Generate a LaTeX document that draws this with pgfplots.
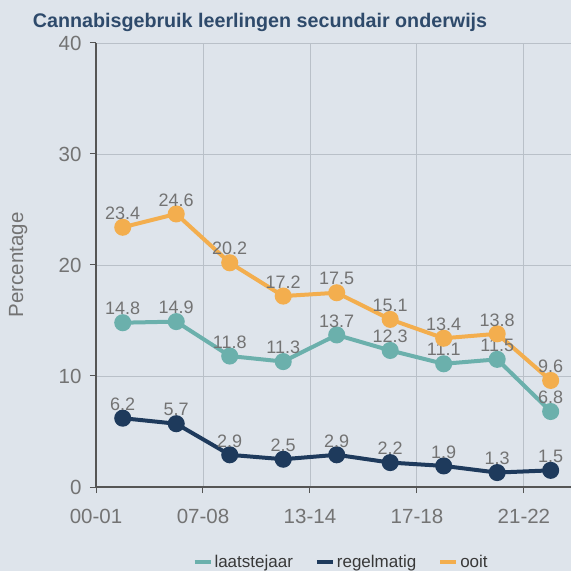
\documentclass[border=0pt]{standalone}
\usepackage{fontspec}
\setmainfont{Liberation Sans}
\usepackage{pgfplots}
\pgfplotsset{compat=1.18}
\definecolor{bg}{HTML}{DEE4EB}
\definecolor{titleblue}{HTML}{2E4A6B}
\definecolor{teal}{HTML}{6BB0AC}
\definecolor{navy}{HTML}{1E3A5C}
\definecolor{orng}{HTML}{F3AE4E}
\definecolor{txtgray}{HTML}{737373}
\definecolor{gridgray}{HTML}{B9C0C8}
\definecolor{axisgray}{HTML}{555555}
\begin{document}
\begin{tikzpicture}
\fill[bg] (0,0) rectangle (571bp,571bp);
\node[text=titleblue, font=\bfseries\fontsize{19.7bp}{22bp}\selectfont] at (260bp,549bp) {Cannabisgebruik leerlingen secundair onderwijs};
\begin{axis}[
  at={(96bp,84bp)}, anchor=south west,
  scale only axis, width=475bp, height=444bp,
  xmin=0, xmax=8.88, ymin=0, ymax=40,
  axis x line*=bottom, axis y line*=left,
  axis line style={axisgray, line width=1.2bp},
  xtick={0,2,4,6,8},
  xticklabels={00-01,07-08,13-14,17-18,21-22},
  ytick={0,10,20,30,40},
  tick align=outside, major tick length=6bp,
  tick style={axisgray, line width=1bp},
  grid=major, grid style={gridgray, line width=0.9bp},
  ticklabel style={text=txtgray, font=\fontsize{20.5bp}{22bp}\selectfont},
  xticklabel style={yshift=-13bp},
  yticklabel style={xshift=-5bp},
  /pgf/number format/assume math mode=true,
  ylabel={Percentage},
  every axis y label/.style={at={(axis description cs:-0.164,0.5)}, rotate=90, anchor=center, text=txtgray, font=\fontsize{20.5bp}{22bp}\selectfont},
  clip=false,
  nodes near coords,
  every node near coord/.append style={anchor=center, yshift=14bp, text=txtgray, font=\fontsize{18bp}{20bp}\selectfont, /pgf/number format/fixed, /pgf/number format/fixed zerofill, /pgf/number format/precision=1},
  legend columns=3,
  legend style={at={(0.516,-0.169)}, anchor=center, draw=none, fill=none, font=\fontsize{17bp}{20bp}\selectfont, text=black!78, /tikz/every even column/.append style={column sep=20bp}},
  legend image code/.code={\draw[#1, line width=4bp, mark=none] (0bp,0bp) -- (16bp,0bp);},
  every axis plot/.append style={line width=4bp, mark=*, mark size=6.5bp},
]
\addplot[teal, mark options={fill=teal, draw=teal}] coordinates {(0.5,14.8) (1.5,14.9) (2.5,11.8) (3.5,11.3) (4.5,13.7) (5.5,12.3) (6.5,11.1) (7.5,11.5) (8.5,6.8)};
\addlegendentry{laatstejaar}
\addplot[navy, mark options={fill=navy, draw=navy}] coordinates {(0.5,6.2) (1.5,5.7) (2.5,2.9) (3.5,2.5) (4.5,2.9) (5.5,2.2) (6.5,1.9) (7.5,1.3) (8.5,1.5)};
\addlegendentry{regelmatig}
\addplot[orng, mark options={fill=orng, draw=orng}] coordinates {(0.5,23.4) (1.5,24.6) (2.5,20.2) (3.5,17.2) (4.5,17.5) (5.5,15.1) (6.5,13.4) (7.5,13.8) (8.5,9.6)};
\addlegendentry{ooit}
\end{axis}
\pgfresetboundingbox
\path[use as bounding box] (0,0) rectangle (571bp,571bp);
\end{tikzpicture}
\end{document}
